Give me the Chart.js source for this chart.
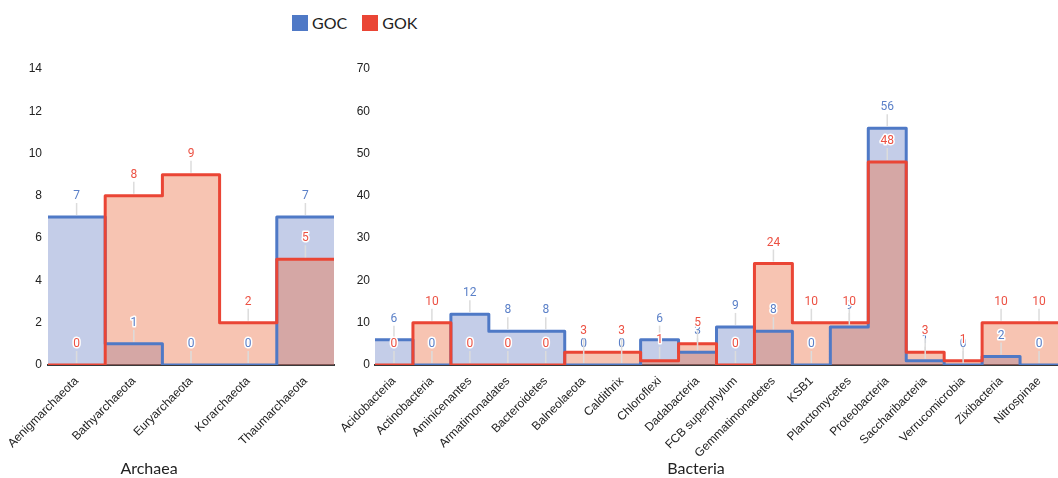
<!DOCTYPE html>
<html>
<head>
<meta charset="utf-8">
<script src="https://cdn.jsdelivr.net/npm/chart.js@4/dist/chart.umd.min.js"></script>
<style>
  body { margin: 0; background: #fff; width: 1058px; height: 478px; overflow: hidden; position: relative; font-family: Lato, sans-serif; }
  .box { position: absolute; top: 0; height: 478px; }
  #leftBox { left: 0; width: 338px; }
  #rightBox { left: 338px; width: 720px; }
  .legend { position: absolute; top: 13px; left: 292px; display: flex; align-items: center; font-size: 16px; color: #222; }
  .legend span.sw { display: inline-block; width: 16px; height: 16px; margin-right: 4px; }
  .legend .item { display: flex; align-items: center; margin-right: 15px; }
  .axisTitle { position: absolute; top: 458px; font-size: 16px; color: #222; transform: translateX(-50%); }
</style>
</head>
<body>
<div class="legend">
  <div class="item"><span class="sw" style="background:#4f79c6"></span>GOC</div>
  <div class="item"><span class="sw" style="background:#ea4535"></span>GOK</div>
</div>
<div class="box" id="leftBox"><canvas id="archaea"></canvas></div>
<div class="box" id="rightBox"><canvas id="bacteria"></canvas></div>
<div class="axisTitle" style="left:149px">Archaea</div>
<div class="axisTitle" style="left:696px">Bacteria</div>

<script>
// --- DADOS ---
const archaeaLabels = ["Aenigmarchaeota", "Bathyarchaeota", "Euryarchaeota", "Korarchaeota", "Thaumarchaeota"];
const archaeaGOC = [7, 1, 0, 0, 7];
const archaeaGOK = [0, 8, 9, 2, 5];
const archaeaMax = 14, archaeaStep = 2;

const bacteriaLabels = ["Acidobacteria", "Actinobacteria", "Aminicenantes", "Armatimonadates", "Bacteroidetes",
  "Balneolaeota", "Caldithrix", "Chloroflexi", "Dadabacteria", "FCB superphylum", "Gemmatimonadetes", "KSB1",
  "Planctomycetes", "Proteobacteria", "Saccharibacteria", "Verrucomicrobia", "Zixibacteria", "Nitrospinae"];
const bacteriaGOC = [6, 0, 12, 8, 8, 0, 0, 6, 3, 9, 8, 0, 9, 56, 1, 0, 2, 0];
const bacteriaGOK = [0, 10, 0, 0, 0, 3, 3, 1, 5, 0, 24, 10, 10, 48, 3, 1, 10, 10];
const bacteriaMax = 70, bacteriaStep = 10;

const seriesNames = ["GOC", "GOK"];

// --- ESTILO ---
const colors = {
  GOC: { line: "#4f79c6", fill: "rgba(70,100,185,0.32)", text: "#5b80c8" },
  GOK: { line: "#ea4535", fill: "rgba(236,114,71,0.42)", text: "#ec5143" }
};

// each category is one band [i, i+1]
const toSteps = (vals) => vals.flatMap((v, i) => [{ x: i, y: v }, { x: i + 1, y: v }]);

const valueLabels = {
  id: "valueLabels",
  afterDatasetsDraw(chart) {
    const ctx = chart.ctx;
    const xs = chart.scales.x, ys = chart.scales.y;
    const sets = chart.options.plugins.valueLabels.sets;
    ctx.save();
    sets.forEach((s) => {
      s.values.forEach((v, i) => {
        const x = xs.getPixelForValue(i + 0.5);
        const y = ys.getPixelForValue(v);
        ctx.strokeStyle = "#dcdcdc";
        ctx.lineWidth = 1.5;
        ctx.beginPath();
        ctx.moveTo(x, y - 2);
        ctx.lineTo(x, y - 14);
        ctx.stroke();
        ctx.font = "12px Roboto";
        ctx.textAlign = "center";
        ctx.textBaseline = "middle";
        ctx.lineJoin = "round";
        ctx.strokeStyle = "#fff";
        ctx.lineWidth = 3;
        ctx.strokeText(String(v), x, y - 21);
        ctx.fillStyle = s.color;
        ctx.fillText(String(v), x, y - 21);
      });
    });
    ctx.restore();
  }
};

const makeChart = (id, labels, goc, gok, max, step, yWidth, padRight, tickPad) => {
  new Chart(document.getElementById(id), {
    type: "line",
    data: {
      datasets: [
        { label: seriesNames[0], data: toSteps(goc), borderColor: colors.GOC.line, backgroundColor: colors.GOC.fill,
          fill: "origin", borderWidth: 3, pointRadius: 0, tension: 0, borderJoinStyle: "round", order: 1 },
        { label: seriesNames[1], data: toSteps(gok), borderColor: colors.GOK.line, backgroundColor: colors.GOK.fill,
          fill: "origin", borderWidth: 3, pointRadius: 0, tension: 0, borderJoinStyle: "round", order: 0 }
      ]
    },
    options: {
      responsive: true,
      maintainAspectRatio: false,
      animation: false,
      layout: { padding: { top: 69, right: padRight, bottom: 0, left: 0 } },
      plugins: {
        legend: { display: false },
        tooltip: { enabled: false },
        filler: { drawTime: "beforeDatasetsDraw" },
        valueLabels: {
          sets: [
            { values: goc, color: colors.GOC.text },
            { values: gok, color: colors.GOK.text }
          ]
        }
      },
      scales: {
        x: {
          type: "linear",
          min: 0,
          max: labels.length,
          grid: { display: false, drawTicks: false },
          border: { display: true, color: "#3a3a3a", width: 2 },
          afterBuildTicks: (scale) => { scale.ticks = labels.map((_, i) => ({ value: i + 0.5 })); },
          afterFit: (scale) => { scale.height = 113; scale.paddingLeft = 0; scale.paddingRight = 0; },
          ticks: {
            autoSkip: false,
            minRotation: 45,
            maxRotation: 45,
            padding: 9,
            color: "#222",
            font: { family: "'Liberation Sans', Arial, sans-serif", size: 12 },
            callback: (v, i) => labels[i]
          }
        },
        y: {
          min: 0,
          max: max,
          grid: { display: false, drawTicks: false },
          border: { display: false },
          afterFit: (scale) => { scale.width = yWidth; },
          ticks: {
            stepSize: step,
            padding: tickPad,
            color: "#222",
            font: { family: "'Liberation Sans', Arial, sans-serif", size: 12 }
          }
        }
      }
    },
    plugins: [valueLabels]
  });
};

makeChart("archaea", archaeaLabels, archaeaGOC, archaeaGOK, archaeaMax, archaeaStep, 48, 4, 6);
makeChart("bacteria", bacteriaLabels, bacteriaGOC, bacteriaGOK, bacteriaMax, bacteriaStep, 37, 0, 5);
</script>
</body>
</html>
